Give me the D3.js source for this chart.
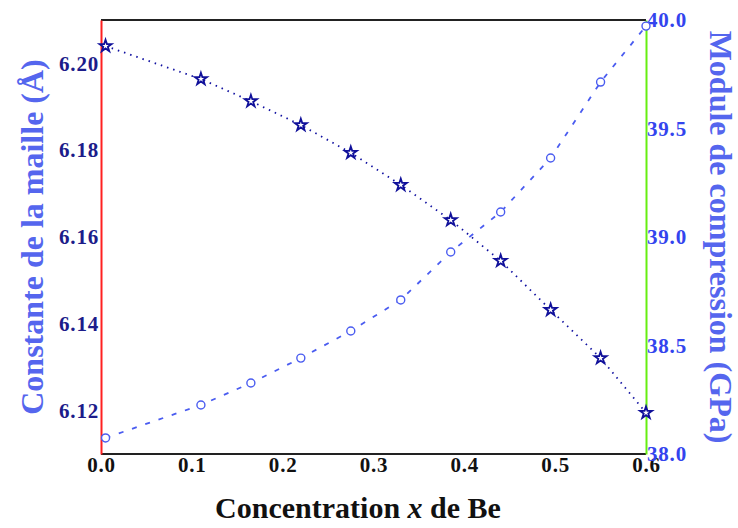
<!DOCTYPE html>
<html>
<head>
<meta charset="utf-8">
<script src="https://cdn.jsdelivr.net/npm/d3@7"></script>
<style>
  body { margin: 0; background: #fff; }
  svg text { font-family: "Liberation Serif", "Times New Roman", "DejaVu Serif", serif; font-weight: bold; }
</style>
</head>
<body>
<svg id="chart" width="738" height="528"></svg>
<script>
// concentration x de Be
const conc = [0.005, 0.11, 0.165, 0.22, 0.275, 0.33, 0.385, 0.44, 0.495, 0.55, 0.6];
// lattice constant (Å), left axis
const latticeA = [6.204, 6.1964, 6.1913, 6.1858, 6.1794, 6.172, 6.1639, 6.1545, 6.1432, 6.1321, 6.1195];
// bulk modulus (GPa), right axis
const bulkB = [38.074, 38.226, 38.327, 38.442, 38.567, 38.710, 38.931, 39.115, 39.364, 39.714, 39.972];

const xTicks = [0, 0.1, 0.2, 0.3, 0.4, 0.5, 0.6];
const leftTicks = [6.12, 6.14, 6.16, 6.18, 6.20];
const rightTicks = [38.0, 38.5, 39.0, 39.5, 40.0];

var FONT = "'Liberation Serif', 'Times New Roman', 'DejaVu Serif', serif";

var margin = {top: 20, right: 92, bottom: 74, left: 101},
    width = 738 - margin.left - margin.right,
    height = 528 - margin.top - margin.bottom;

var svg = d3.select("#chart");
var g = svg.append("g")
    .attr("transform", "translate(" + margin.left + "," + margin.top + ")");

var x = d3.scaleLinear().domain([0, 0.6]).range([0, width]);
var yL = d3.scaleLinear().domain([6.11, 6.21]).range([height, 0]);
var yR = d3.scaleLinear().domain([38, 40]).range([height, 0]);

// frame: black top/bottom
g.append("line").attr("x1", 0).attr("x2", width).attr("y1", 0).attr("y2", 0)
    .attr("stroke", "#222").attr("stroke-width", 2);
g.append("line").attr("x1", 0).attr("x2", width).attr("y1", height).attr("y2", height)
    .attr("stroke", "#222").attr("stroke-width", 2);

function styleTicks(sel, color) {
  sel.selectAll("text")
      .attr("fill", color)
      .attr("font-family", FONT)
      .attr("font-weight", "bold")
      .attr("font-size", 21)
      .attr("letter-spacing", 0.8);
}

// x axis
var xAxis = g.append("g")
    .attr("transform", "translate(0," + height + ")")
    .call(d3.axisBottom(x).tickValues(xTicks).tickFormat(d3.format(".1f")).tickSize(0).tickPadding(3));
xAxis.select(".domain").remove();
styleTicks(xAxis, "#111");

// left axis (red)
var lAxis = g.append("g")
    .call(d3.axisLeft(yL).tickValues(leftTicks).tickFormat(d3.format(".2f")).tickSize(0).tickPadding(2));
lAxis.select(".domain").attr("stroke", "#ff2020").attr("stroke-width", 2);
styleTicks(lAxis, "#1c1c8a");

// right axis (green)
var rAxis = g.append("g")
    .attr("transform", "translate(" + width + ",0)")
    .call(d3.axisRight(yR).tickValues(rightTicks).tickFormat(d3.format(".1f")).tickSize(0).tickPadding(1));
rAxis.select(".domain").attr("stroke", "#66ee11").attr("stroke-width", 2);
styleTicks(rAxis, "#3344ee");

// lattice constant series (stars, dotted)
var lineA = d3.line()
    .x(function(d, i) { return x(conc[i]); })
    .y(function(d) { return yL(d); });

g.append("path")
    .datum(latticeA)
    .attr("d", lineA)
    .attr("fill", "none")
    .attr("stroke", "#1010a0")
    .attr("stroke-width", 1.8)
    .attr("stroke-dasharray", "1.5,5");

g.selectAll("path.star")
    .data(latticeA)
  .enter().append("path")
    .attr("class", "star")
    .attr("d", d3.symbol().type(d3.symbolStar).size(45))
    .attr("transform", function(d, i) { return "translate(" + x(conc[i]) + "," + yL(d) + ")"; })
    .attr("fill", "#fff")
    .attr("stroke", "#10109a")
    .attr("stroke-width", 1.8);

// bulk modulus series (circles, dashed)
var lineB = d3.line()
    .x(function(d, i) { return x(conc[i]); })
    .y(function(d) { return yR(d); });

g.append("path")
    .datum(bulkB)
    .attr("d", lineB)
    .attr("fill", "none")
    .attr("stroke", "#4a5cf0")
    .attr("stroke-width", 1.8)
    .attr("stroke-dasharray", "5,9");

g.selectAll("circle.pt")
    .data(bulkB)
  .enter().append("circle")
    .attr("class", "pt")
    .attr("cx", function(d, i) { return x(conc[i]); })
    .attr("cy", function(d) { return yR(d); })
    .attr("r", 4)
    .attr("fill", "#fff")
    .attr("stroke", "#4a5cf0")
    .attr("stroke-width", 1.4);

// axis titles
var xt = svg.append("text")
    .attr("x", 358).attr("y", 518)
    .attr("text-anchor", "middle")
    .attr("fill", "#111")
    .attr("font-family", FONT)
    .attr("font-size", 30);
xt.append("tspan").text("Concentration ");
xt.append("tspan").attr("font-style", "italic").text("x");
xt.append("tspan").text(" de Be");

svg.append("text")
    .attr("transform", "translate(43,237) rotate(-90)")
    .attr("text-anchor", "middle")
    .attr("fill", "#5566ee")
    .attr("font-family", FONT)
    .attr("font-size", 32)
    .text("Constante de la maille (Å)");

svg.append("text")
    .attr("transform", "translate(710,237) rotate(90)")
    .attr("text-anchor", "middle")
    .attr("fill", "#5566ee")
    .attr("font-family", FONT)
    .attr("font-size", 32)
    .text("Module de compression (GPa)");
</script>
</body>
</html>
